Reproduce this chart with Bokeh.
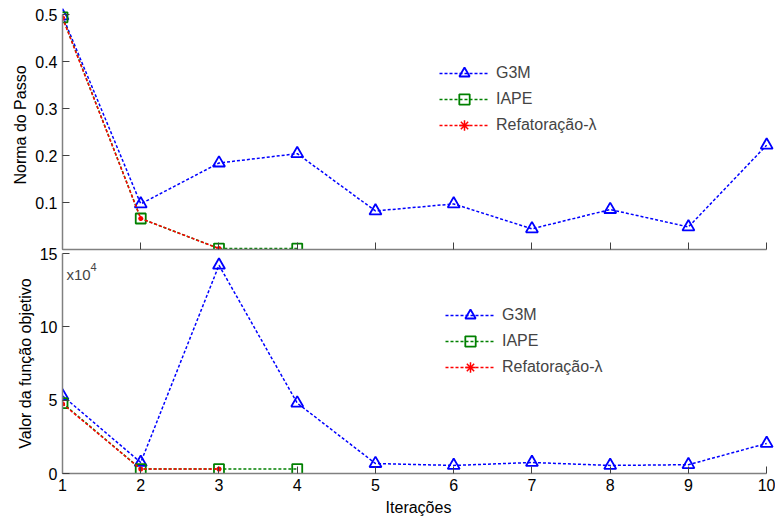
from bokeh.plotting import figure
from bokeh.layouts import column
from bokeh.models import Label, FixedTicker, Legend
from bokeh.embed import file_html
from bokeh.resources import INLINE

iters = [1, 2, 3, 4, 5, 6, 7, 8, 9, 10]

# Norma do Passo
g3m_step = [0.497, 0.097, 0.184, 0.204, 0.082, 0.097, 0.044, 0.085, 0.048, 0.222]
iape_step = [0.494, 0.066, 0.002, 0.002]
ref_step = [0.493, 0.066, 0.002]

# Valor da função objetivo (x10^4)
g3m_obj = [5.3, 0.75, 14.2, 4.8, 0.68, 0.55, 0.75, 0.55, 0.6, 2.05]
iape_obj = [4.8, 0.3, 0.3, 0.3]
ref_obj = [4.75, 0.3, 0.3]

names = ["G3M", "IAPE", "Refatoração-λ"]
x_ticks = [1, 2, 3, 4, 5, 6, 7, 8, 9, 10]
step_ticks = [0.1, 0.2, 0.3, 0.4, 0.5]
obj_ticks = [0, 5, 10, 15]

FONT = "Liberation Sans"
FS = "16px"
BLUE, GREEN, RED = "#0000ff", "#008000", "#ff0000"
AX = "#808080"
DASH = "3 2"


def style(p, ylabel, yticks, ybounds):
    p.outline_line_color = None
    p.xgrid.visible = False
    p.ygrid.visible = False
    p.background_fill_color = "white"
    for ax in (p.xaxis[0], p.yaxis[0]):
        ax.axis_line_color = AX
        ax.axis_line_width = 1.5
        ax.major_tick_line_color = "#404040"
        ax.major_tick_in = 7
        ax.major_tick_out = 0
        ax.minor_tick_line_color = None
        ax.major_label_text_font = FONT
        ax.major_label_text_font_size = FS
        ax.major_label_text_color = "black"
        ax.axis_label_text_font = FONT
        ax.axis_label_text_font_size = FS
        ax.axis_label_text_font_style = "normal"
        ax.axis_label_text_color = "black"
        ax.major_label_standoff = 5
    p.xaxis.ticker = FixedTicker(ticks=x_ticks)
    p.xaxis.bounds = (1, 10)
    p.yaxis.ticker = FixedTicker(ticks=yticks)
    p.yaxis.bounds = ybounds
    p.yaxis.axis_label = ylabel
    p.yaxis.axis_label_standoff = 3


def series(p, y_g, y_i, y_r):
    r1 = p.line(iters[:len(y_g)], y_g, line_color=BLUE, line_width=1.5, line_dash=DASH)
    r2 = p.scatter(iters[:len(y_g)], y_g, marker="triangle", size=12, fill_color=None,
                   line_color=BLUE, line_width=1.8)
    r3 = p.line(iters[:len(y_i)], y_i, line_color=GREEN, line_width=1.5, line_dash=DASH)
    r4 = p.scatter(iters[:len(y_i)], y_i, marker="square", size=10, fill_color=None,
                   line_color=GREEN, line_width=1.8)
    r5 = p.line(iters[:len(y_r)], y_r, line_color=RED, line_width=1.5, line_dash=DASH)
    r6 = p.scatter(iters[:len(y_r)], y_r, marker="asterisk", size=5,
                   line_color=RED, line_width=1.5)
    return [(names[0], [r1, r2]), (names[1], [r3, r4]), (names[2], [r5, r6])]


def add_legend(p, items, loc):
    leg = Legend(items=items, location=loc, border_line_color=None,
                 background_fill_alpha=0, label_text_font=FONT,
                 label_text_font_size=FS, glyph_width=50, glyph_height=26,
                 spacing=-2, padding=0, margin=0, label_standoff=7)
    p.add_layout(leg, "center")


top = figure(width=775, height=253, x_range=(1, 10.1), y_range=(0, 0.5298),
             output_backend="svg", toolbar_location=None,
             min_border_left=62, min_border_right=1, min_border_top=0,
             min_border_bottom=4)
style(top, "Norma do Passo", step_ticks, (0, 0.5))
top.xaxis.major_label_text_font_size = "0px"
top.xaxis.major_label_text_color = None
top.xaxis.major_label_standoff = 0
add_legend(top, series(top, g3m_step, iape_step, ref_step), (377, 111))

bot = figure(width=775, height=279, x_range=(1, 10.1), y_range=(0, 15),
             output_backend="svg", toolbar_location=None,
             min_border_left=62, min_border_right=1, min_border_top=10,
             min_border_bottom=49, border_fill_color=None)
bot.margin = (-10, 0, 0, 0)
style(bot, "Valor da função objetivo", obj_ticks, (0, 15))
bot.xaxis.axis_label = "Iterações"
bot.xaxis.axis_label_standoff = 5
add_legend(bot, series(bot, g3m_obj, iape_obj, ref_obj), (383, 93))

bot.add_layout(Label(x=4, y=199, x_units="screen", y_units="screen", text="x10",
                     text_font=FONT, text_font_size="15px", text_baseline="middle"))
bot.add_layout(Label(x=28, y=207, x_units="screen", y_units="screen", text="4",
                     text_font=FONT, text_font_size="11px", text_baseline="middle"))

layout = column(top, bot, spacing=0)
open("out.html", "w").write(file_html(layout, INLINE))
